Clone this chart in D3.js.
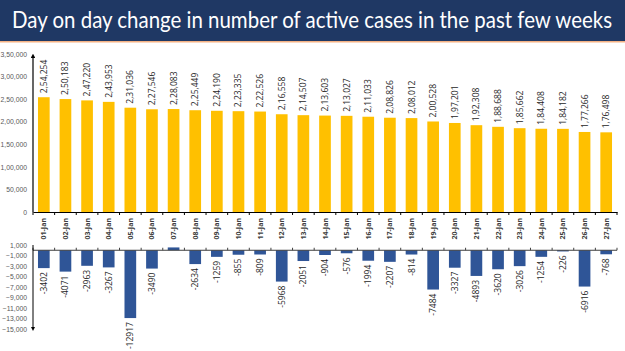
<!DOCTYPE html>
<html>
<head>
<meta charset="utf-8">
<script src="https://cdn.jsdelivr.net/npm/d3@7"></script>
<style>
  body { margin: 0; background: #fff; }
  svg { display: block; font-family: "Open Sans", "DejaVu Sans", sans-serif; }
</style>
</head>
<body>
<div id="chart"></div>
<script>
// dates on the x axis
const days = ["01-Jan","02-Jan","03-Jan","04-Jan","05-Jan","06-Jan","07-Jan","08-Jan","09-Jan",
  "10-Jan","11-Jan","12-Jan","13-Jan","14-Jan","15-Jan","16-Jan","17-Jan","18-Jan","19-Jan",
  "20-Jan","21-Jan","22-Jan","23-Jan","24-Jan","25-Jan","26-Jan","27-Jan"];

// active cases each day
const activeCases = [254254, 250183, 247220, 243953, 231036, 227546, 228083, 225449, 224190,
  223335, 222526, 216558, 214507, 213603, 213027, 211033, 208826, 208012, 200528,
  197201, 192308, 188688, 185662, 184408, 184182, 177266, 176498];

// change vs the day before
const dailyChange = [-3402, -4071, -2963, -3267, -12917, -3490, 537, -2634, -1259,
  -855, -809, -5968, -2051, -904, -576, -1994, -2207, -814, -7484,
  -3327, -4893, -3620, -3026, -1254, -226, -6916, -768];

const topTicks = [0, 50000, 100000, 150000, 200000, 250000, 300000, 350000];
const bottomTicks = [1000, -1000, -3000, -5000, -7000, -9000, -11000, -13000, -15000];

const titleText = "Day on day change in number of active cases in the past few weeks";

const W = 625, H = 351;

// indian digit grouping, e.g. 2,54,254
function indian(n) {
  const neg = n < 0;
  let s = String(Math.abs(Math.round(n)));
  let last3 = s.slice(-3), rest = s.slice(0, -3);
  if (rest) rest = rest.replace(/\B(?=(\d{2})+(?!\d))/g, ",") + ",";
  return (neg ? "-" : "") + rest + last3;
}

const svg = d3.select("#chart").append("svg")
  .attr("width", W).attr("height", H);

// title band
svg.append("rect").attr("x", 0).attr("y", 0).attr("width", W).attr("height", 41)
  .attr("fill", "#1f3864");
svg.append("rect").attr("x", 0).attr("y", 41).attr("width", W).attr("height", 1.5)
  .attr("fill", "#f4b183");
svg.append("text")
  .attr("transform", "translate(12,28) scale(1,1.12)")
  .attr("fill", "#fff")
  .attr("textLength", 600)
  .attr("lengthAdjust", "spacingAndGlyphs")
  .style("font-family", "Lato, 'Open Sans', sans-serif")
  .style("font-size", "20px")
  .text(titleText);

svg.append("defs").append("marker")
  .attr("id", "arrow").attr("viewBox", "0 0 6 6")
  .attr("refX", 3).attr("refY", 3)
  .attr("markerWidth", 4).attr("markerHeight", 4)
  .attr("orient", "auto")
  .append("path").attr("d", "M0,0L6,3L0,6Z").attr("fill", "#000");

const x = d3.scaleBand()
  .domain(days)
  .range([33, 617])
  .paddingInner(0.46)
  .paddingOuter(0.23);

// ---------- top chart ----------
const y1 = d3.scaleLinear().domain([0, 350000]).range([212, 54]);

const yAxis1 = svg.append("g")
  .attr("transform", "translate(33,0)")
  .call(d3.axisLeft(y1).tickValues(topTicks).tickFormat(indian).tickSize(0).tickPadding(6));
yAxis1.select(".domain").remove();
yAxis1.selectAll("text").style("font-size", "6.8px").attr("fill", "#595959");

svg.selectAll(".barTop")
  .data(activeCases)
  .join("rect")
  .attr("class", "barTop")
  .attr("x", (d, i) => x(days[i]))
  .attr("y", d => y1(d))
  .attr("width", x.bandwidth())
  .attr("height", d => y1(0) - y1(d))
  .attr("fill", "#ffc000");

svg.selectAll(".lblTop")
  .data(activeCases)
  .join("text")
  .attr("class", "lblTop")
  .attr("transform", (d, i) => `translate(${x(days[i]) + x.bandwidth() / 2 + 3},${y1(d) - 4}) rotate(-90)`)
  .style("font-size", "8.5px")
  .attr("fill", "#262626")
  .text(d => indian(d));

// x axis of top chart
const xAxis1 = svg.append("g")
  .attr("transform", `translate(0,${y1(0)})`)
  .call(d3.axisBottom(x).tickSize(0).tickFormat(""));
xAxis1.select(".domain").attr("stroke", "#000").attr("stroke-width", 1.2);
xAxis1.selectAll(".tick").remove();

const step = x.step();
const bounds = d3.range(days.length + 1).map(i => x(days[0]) - x.paddingInner() * step / 2 + i * step);
svg.selectAll(".tTop")
  .data(bounds)
  .join("line")
  .attr("class", "tTop")
  .attr("x1", d => d).attr("x2", d => d)
  .attr("y1", y1(0)).attr("y2", y1(0) + 3)
  .attr("stroke", "#000").attr("stroke-width", 1);

svg.append("line")
  .attr("x1", 33).attr("x2", 33)
  .attr("y1", y1(0)).attr("y2", 56)
  .attr("stroke", "#000").attr("stroke-width", 1.2)
  .attr("marker-end", "url(#arrow)");

svg.selectAll(".xl")
  .data(days)
  .join("text")
  .attr("class", "xl")
  .attr("transform", d => `translate(${x(d) + x.bandwidth() / 2 + 2.5},${y1(0) + 6}) rotate(-90)`)
  .attr("text-anchor", "end")
  .style("font-size", "7px")
  .style("font-weight", "bold")
  .attr("fill", "#404040")
  .text(d => d);

// ---------- bottom chart ----------
const y2 = d3.scaleLinear().domain([-15000, 1000]).range([329, 245]);

const yAxis2 = svg.append("g")
  .attr("transform", "translate(33,0)")
  .call(d3.axisLeft(y2).tickValues(bottomTicks).tickFormat(d3.format(",")).tickSize(0).tickPadding(6));
yAxis2.select(".domain").remove();
yAxis2.selectAll("text").style("font-size", "6.8px").attr("fill", "#595959");

svg.selectAll(".barBot")
  .data(dailyChange)
  .join("rect")
  .attr("class", "barBot")
  .attr("x", (d, i) => x(days[i]))
  .attr("y", d => Math.min(y2(d), y2(0)))
  .attr("width", x.bandwidth())
  .attr("height", d => Math.abs(y2(d) - y2(0)))
  .attr("fill", "#2f5597");

svg.selectAll(".lblBot")
  .data(dailyChange.map((v, i) => ({ v, day: days[i] })).filter(d => d.v < 0))
  .join("text")
  .attr("class", "lblBot")
  .attr("transform", d => `translate(${x(d.day) + x.bandwidth() / 2 + 3},${y2(d.v) + 4}) rotate(-90)`)
  .attr("text-anchor", "end")
  .style("font-size", "8.5px")
  .attr("fill", "#262626")
  .text(d => d.v);

svg.append("line")
  .attr("x1", 33).attr("x2", 617)
  .attr("y1", y2(0)).attr("y2", y2(0))
  .attr("stroke", "#404040").attr("stroke-width", 1);

svg.selectAll(".tBot")
  .data(bounds)
  .join("line")
  .attr("class", "tBot")
  .attr("x1", d => d).attr("x2", d => d)
  .attr("y1", y2(0)).attr("y2", y2(0) - 2.5)
  .attr("stroke", "#404040").attr("stroke-width", 1);

svg.append("line")
  .attr("x1", 33).attr("x2", 33)
  .attr("y1", y2(1000)).attr("y2", 329)
  .attr("stroke", "#000").attr("stroke-width", 1)
  .attr("marker-end", "url(#arrow)");
</script>
</body>
</html>
